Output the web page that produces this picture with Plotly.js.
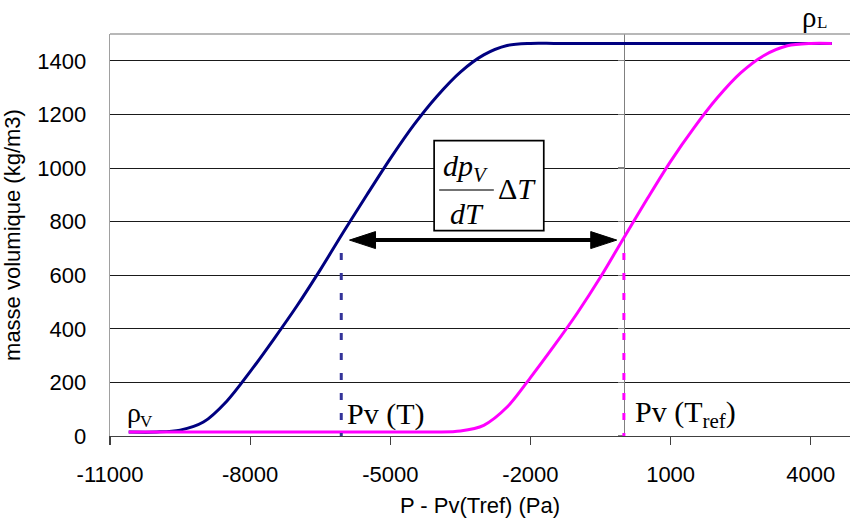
<!DOCTYPE html>
<html><head><meta charset="utf-8">
<script src="https://cdn.plot.ly/plotly-3.0.1.min.js"></script>
<style>html,body{margin:0;padding:0;background:#fff}#chart{width:850px;height:527px}</style>
</head><body><div id="chart"></div>
<script>
// Data
const navyX = [-10600,-10000,-9500,-9000,-8500,-8000,-7500,-7000,-6500,-6000,-5500,-5000,-4500,-4000,-3500,-3000,-2500,-2000,-1500,-1000,0,1000,2000,3000,4000,4450];
const navyY = [15,15,22,52,130,240,360,485,620,762,900,1035,1160,1268,1358,1422,1457,1465,1465,1465,1465,1465,1465,1465,1465,1465];
const magentaX = [-10600,-10000,-9000,-8000,-7000,-6000,-5000,-4500,-4000,-3500,-3000,-2500,-2000,-1500,-1000,-500,0,500,1000,1500,2000,2500,3000,3500,4000,4450];
const magentaY = [15,15,15,15,15,15,15,15,15,19,40,108,218,335,458,593,740,885,1025,1150,1262,1355,1420,1456,1465,1465];
const pvTX = [-6050, -6050];       // Pv(T) drop line
const pvTrefX = [0, 0];            // Pv(Tref) drop line
const dropY = [683, 0];
const xTickVals = [-11000,-8000,-5000,-2000,1000,4000];
const xTickText = ['-11000','-8000','-5000','-2000','1000','4000'];
const yTickVals = [0,200,400,600,800,1000,1200,1400];
const yTickText = ['0','200','400','600','800','1000','1200','1400'];

const xRange = [-11000, 4840];
const yRange = [0, 1500];
const zeroPos = (0 - xRange[0]) / (xRange[1] - xRange[0]);

// annotation geometry
const arrowY = 731, arrowL = -5873, arrowR = -153;
const sans = 'Liberation Sans, Arial, sans-serif';
const serif = 'Liberation Serif, Times New Roman, serif';

const traces = [
  {x: navyX, y: navyY, type:'scatter', mode:'lines', line:{color:'#000080', width:3, shape:'spline', smoothing:0.9}, hoverinfo:'skip'},
  {x: magentaX, y: magentaY, type:'scatter', mode:'lines', line:{color:'#FF00FF', width:3, shape:'spline', smoothing:0.9}, hoverinfo:'skip'},
  {x: pvTX, y: dropY, type:'scatter', mode:'lines', line:{color:'#333399', width:3, dash:'7px,13px'}, hoverinfo:'skip'},
  {x: pvTrefX, y: dropY, type:'scatter', mode:'lines', line:{color:'#FF00FF', width:3, dash:'7px,13px'}, hoverinfo:'skip'},
  {x: [null], y: [null], yaxis:'y2', type:'scatter', mode:'lines', hoverinfo:'skip'}
];

const tf = {family: sans, size: 22, color: '#000'};

const layout = {
  width: 850, height: 527,
  margin: {l:110, r:0, t:34, b:91},
  paper_bgcolor:'#fff', plot_bgcolor:'#fff',
  showlegend:false,
  xaxis: {
    range: xRange, tickvals: xTickVals, ticktext: xTickText,
    showgrid:false, zeroline:false, showline:true, linecolor:'#404040', linewidth:1.3,
    ticks:'outside', ticklen:8, tickcolor:'#404040', tickwidth:1.3,
    tickfont: tf, ticklabelstandoff: 10,
    title: {text:'P - Pv(Tref) (Pa)', font: tf, standoff: 12},
    automargin:false, fixedrange:true
  },
  yaxis: {
    range: yRange, tickvals: yTickVals, ticktext: yTickText,
    showgrid:true, gridcolor:'#1a1a1a', gridwidth:1,
    zeroline:false, showline:true, linecolor:'#a0a0a0', linewidth:1.3,
    ticks:'', tickfont: tf, ticklabelstandoff: 18,
    title: {text:'masse volumique (kg/m3)', font: tf, standoff: 10},
    automargin:false, fixedrange:true
  },
  yaxis2: {
    overlaying:'y', anchor:'free', position: zeroPos, side:'left',
    range: yRange, tickvals: yTickVals, showticklabels:false,
    ticks:'outside', ticklen:6, tickcolor:'#808080', tickwidth:1.3,
    showline:true, linecolor:'#808080', linewidth:1.5,
    showgrid:false, zeroline:false, layer:'below traces', fixedrange:true
  },
  shapes: [
    {type:'line', xref:'paper', yref:'paper', x0:0, x1:1, y0:1, y1:1, line:{color:'#a0a0a0', width:1.3}},
    {type:'rect', xref:'x', yref:'y', x0:-4062, x1:-1715, y0:766, y1:1102, line:{color:'#000', width:1.7}, fillcolor:'#fff', layer:'above'},
    {type:'line', xref:'x', yref:'y', x0:-3954, x1:-2784, y0:918, y1:918, line:{color:'#444', width:1.5}},
    {type:'line', xref:'x', yref:'y', x0:arrowL+400, x1:arrowR-400, y0:arrowY, y1:arrowY, line:{color:'#000', width:4}},
    {type:'path', xref:'x', yref:'y', xsizemode:'pixel', ysizemode:'pixel', xanchor:arrowL, yanchor:arrowY,
     path:'M0,0 L26,8.5 L26,-8.5 Z', fillcolor:'#000', line:{color:'#000', width:1}},
    {type:'path', xref:'x', yref:'y', xsizemode:'pixel', ysizemode:'pixel', xanchor:arrowR, yanchor:arrowY,
     path:'M0,0 L-26,8.5 L-26,-8.5 Z', fillcolor:'#000', line:{color:'#000', width:1}}
  ],
  annotations: [
    {x:-3383, y:1000, text:'<i>dp<sub>V</sub></i>', showarrow:false, xanchor:'center', yanchor:'middle', font:{family:serif, size:30, color:'#000'}},
    {x:-3362, y:832, text:'<i>dT</i>', showarrow:false, xanchor:'center', yanchor:'middle', font:{family:serif, size:30, color:'#000'}},
    {x:-2292, y:925, text:'Δ<i>T</i>', showarrow:false, xanchor:'center', yanchor:'middle', font:{family:serif, size:30, color:'#000'}},
    {x:-10679, y:86, text:'ρ', showarrow:false, xanchor:'left', yanchor:'middle', font:{family:serif, size:28, color:'#000'}},
    {x:-10400, y:55, text:'V', showarrow:false, xanchor:'left', yanchor:'middle', font:{family:serif, size:17, color:'#000'}},
    {x:-5972, y:82, text:'Pv (T)', showarrow:false, xanchor:'left', yanchor:'middle', font:{family:serif, size:30, color:'#000'}},
    {x:197, y:82, text:'Pv (T<sub>ref</sub>)', showarrow:false, xanchor:'left', yanchor:'middle', font:{family:serif, size:30, color:'#000'}},
    {x:3780, xref:'x', yref:'paper', y:1.0423, text:'ρ', showarrow:false, xanchor:'left', yanchor:'middle', font:{family:serif, size:29, color:'#000'}},
    {x:4090, xref:'x', yref:'paper', y:1.0274, text:'L', showarrow:false, xanchor:'left', yanchor:'middle', font:{family:serif, size:17, color:'#000'}}
  ]
};

Plotly.newPlot('chart', traces, layout, {staticPlot:true, displayModeBar:false});
</script>
</body></html>
